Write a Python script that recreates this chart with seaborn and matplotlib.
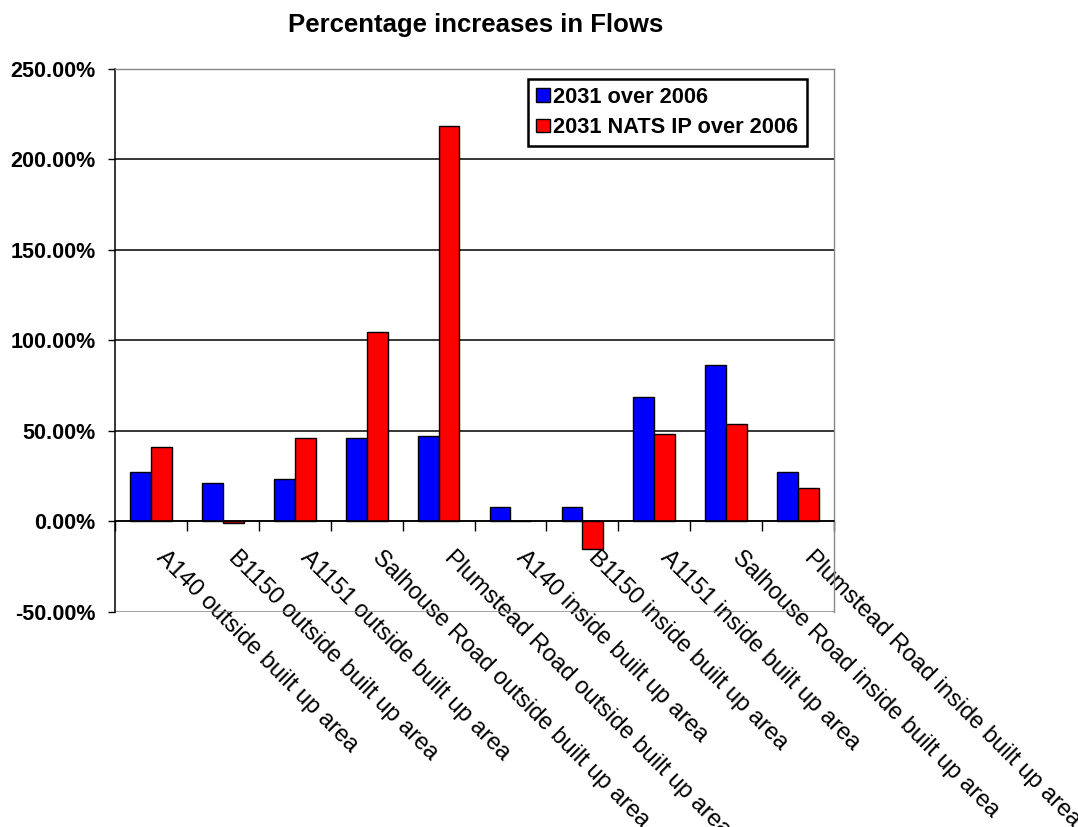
import pandas as pd
import numpy as np
import matplotlib
matplotlib.use("Agg")
import matplotlib.pyplot as plt
import matplotlib.ticker as mtick
import matplotlib.transforms as mtrans
import seaborn as sb

# values (percent)
roads = ["A140 outside built up area", "B1150 outside built up area",
         "A1151 outside built up area", "Salhouse Road outside built up area",
         "Plumstead Road outside built up area", "A140 inside built up area",
         "B1150 inside built up area", "A1151 inside built up area",
         "Salhouse Road inside built up area", "Plumstead Road inside built up area"]
series = ["2031 over 2006", "2031 NATS IP over 2006"]
inc_2031 = [27.3, 21.0, 23.3, 46.0, 47.4, 8.1, 8.1, 68.6, 86.2, 27.3]
inc_nats = [41.1, -1.0, 46.0, 104.5, 218.4, 0.0, -15.4, 48.2, 54.0, 18.6]
yticks = [-50, 0, 50, 100, 150, 200, 250]

df = pd.DataFrame({
    "Road": roads * 2,
    "Series": [series[0]] * len(roads) + [series[1]] * len(roads),
    "Increase": inc_2031 + inc_nats,
})

sb.set_style("white")
plt.rcParams["font.family"] = ["Liberation Sans", "DejaVu Sans"]
plt.rcParams["text.color"] = "black"
plt.rcParams["xtick.color"] = "black"
plt.rcParams["ytick.color"] = "black"
plt.rcParams["xtick.labelcolor"] = "black"
plt.rcParams["ytick.labelcolor"] = "black"

fig = plt.figure(figsize=(10.78, 8.27), dpi=100)
ax = fig.add_axes([0.1067, 0.26, 0.667, 0.6566])

sb.barplot(data=df, x="Road", y="Increase", hue="Series",
           palette=["#0000FF", "#FF0000"], edgecolor="black", linewidth=1.0,
           width=0.58, saturation=1, ax=ax)

ax.set_ylim(-50, 250)
ax.set_xlim(-0.5, len(roads) - 0.5)
ax.set_yticks(yticks)
ax.yaxis.set_major_formatter(mtick.FuncFormatter(lambda v, p: f"{v:.2f}%"))
ax.tick_params(axis="y", direction="out", length=5, width=1, color="black",
               pad=9, labelsize=15.5, left=True)
for t in ax.get_yticklabels():
    t.set_fontweight("bold")

ax.grid(axis="y", color="black", linewidth=1.1)
ax.set_axisbelow(True)
gl = ax.get_ygridlines()
gl[0].set_color("#888888")
gl[-1].set_color("#888888")

# category axis sits on the zero line
ax.spines["bottom"].set_position(("data", 0))
ax.spines["bottom"].set_color("black")
ax.spines["bottom"].set_linewidth(1.1)
ax.spines["left"].set_color("black")
ax.spines["left"].set_linewidth(1.1)
for s in ["top", "right"]:
    ax.spines[s].set_color("#888888")
    ax.spines[s].set_linewidth(1.0)

ax.set_xticks(np.arange(len(roads)))
ax.set_xticks(np.arange(len(roads) + 1) - 0.5, minor=True)
ax.tick_params(axis="x", which="major", length=0, pad=20)
ax.tick_params(axis="x", which="minor", length=7, width=1, color="black",
               direction="out", bottom=True)
ax.set_xticklabels(roads, rotation=-45, ha="left", va="top",
                   rotation_mode="anchor", fontsize=17)
shift = mtrans.ScaledTranslation(17 / 100, 3 / 100, fig.dpi_scale_trans)
for t in ax.get_xticklabels():
    t.set_transform(t.get_transform() + shift)
ax.set_xlabel("")
ax.set_ylabel("")

leg = ax.legend(loc="upper right", bbox_to_anchor=(0.962, 0.982),
                prop={"weight": "bold", "size": 15.7}, frameon=True,
                fancybox=False, edgecolor="black", framealpha=1,
                handlelength=0.65, handleheight=0.6, handletextpad=0.15,
                labelspacing=0.42, borderpad=0.38, borderaxespad=0)
leg.get_frame().set_linewidth(1.8)

fig.text(0.4416, 0.970, "Percentage increases in Flows", ha="center",
         va="center", fontsize=18.5, fontweight="bold")

plt.savefig("out.png", dpi=100)
